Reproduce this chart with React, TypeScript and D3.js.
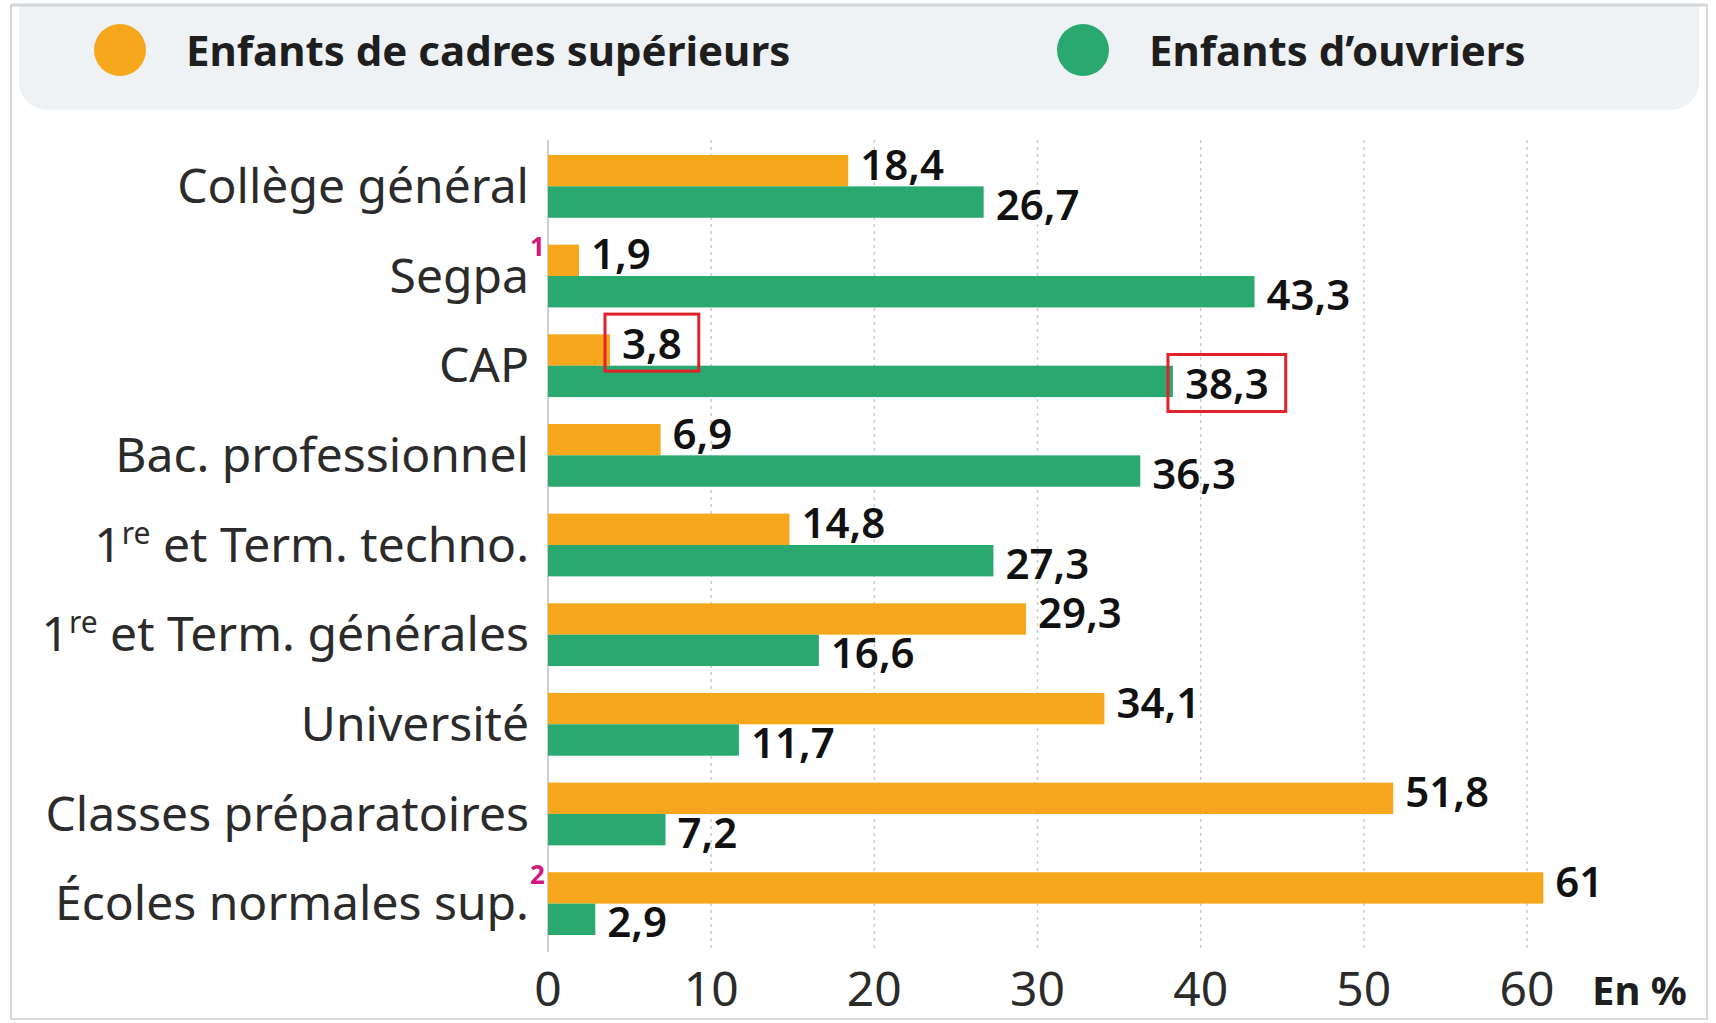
import React, { useEffect, useRef } from 'react';
import * as d3 from 'd3';

// Catégories (axe vertical), du haut vers le bas
const categories = [
  'Collège général',
  'Segpa',
  'CAP',
  'Bac. professionnel',
  '1re et Term. techno.',
  '1re et Term. générales',
  'Université',
  'Classes préparatoires',
  'Écoles normales sup.',
];
// appels de note en magenta
const footnotes = ['', '1', '', '', '', '', '', '', '2'];

// En %
const cadres = [18.4, 1.9, 3.8, 6.9, 14.8, 29.3, 34.1, 51.8, 61];
const ouvriers = [26.7, 43.3, 38.3, 36.3, 27.3, 16.6, 11.7, 7.2, 2.9];

const seriesNames = ['Enfants de cadres supérieurs', 'Enfants d’ouvriers'];
const seriesKeys = ['cadres', 'ouvriers'];
const seriesColors = ['#f6a71c', '#29a96f'];

const xTicks = [0, 10, 20, 30, 40, 50, 60];
const highlighted = ['CAP'];

const W = 1716;
const H = 1023;
const FONT = '"Noto Sans", sans-serif';
const fmt = (v: number) => String(v).replace('.', ',');

const App = () => {
  const svgRef = useRef<SVGSVGElement>(null);

  useEffect(() => {
    const svg = d3.select(svgRef.current);
    svg.selectAll('*').remove();

    const x = d3.scaleLinear().domain([0, 60]).range([548, 1527]);
    const y = d3.scaleBand<string>()
      .domain(categories)
      .range([155, 935])
      .paddingInner(0.3)
      .paddingOuter(0);
    const sub = d3.scaleBand<string>()
      .domain(seriesKeys)
      .range([0, y.bandwidth()]);

    // cadre
    svg.append('rect')
      .attr('x', 11).attr('y', 5)
      .attr('width', 1696).attr('height', 1014)
      .attr('fill', '#fff')
      .attr('stroke', '#d9d9d9')
      .attr('stroke-width', 2);

    // bandeau de légende
    svg.append('rect')
      .attr('x', 19).attr('y', 6)
      .attr('width', 1680).attr('height', 104)
      .attr('rx', 28)
      .attr('fill', '#eef2f5');
    svg.append('rect')
      .attr('x', 19).attr('y', 6)
      .attr('width', 1680).attr('height', 40)
      .attr('fill', '#eef2f5');
    svg.append('line')
      .attr('x1', 11).attr('x2', 1707)
      .attr('y1', 5).attr('y2', 5)
      .attr('stroke', '#d4d7da')
      .attr('stroke-width', 3);

    const legendX = [120, 1083];
    seriesNames.forEach((name, i) => {
      svg.append('circle')
        .attr('cx', legendX[i]).attr('cy', 50).attr('r', 26)
        .attr('fill', seriesColors[i]);
      svg.append('text')
        .attr('x', legendX[i] + 66).attr('y', 66)
        .attr('font-family', FONT)
        .attr('font-size', 42)
        .attr('font-weight', 700)
        .attr('fill', '#1e1e1e')
        .text(name);
    });

    // grille
    svg.append('g')
      .selectAll('line')
      .data(xTicks.slice(1))
      .join('line')
      .attr('x1', (d) => x(d)).attr('x2', (d) => x(d))
      .attr('y1', 140).attr('y2', 952)
      .attr('stroke', '#cbcbcb')
      .attr('stroke-width', 1.5)
      .attr('stroke-dasharray', '3,4');
    svg.append('line')
      .attr('x1', x(0)).attr('x2', x(0))
      .attr('y1', 140).attr('y2', 952)
      .attr('stroke', '#cfcfcf')
      .attr('stroke-width', 2);

    // barres
    const values = [cadres, ouvriers];
    const rows = svg.append('g')
      .selectAll('g')
      .data(categories)
      .join('g')
      .attr('transform', (d) => `translate(0,${y(d)})`);

    seriesKeys.forEach((key, s) => {
      rows.append('rect')
        .attr('x', x(0))
        .attr('y', sub(key)!)
        .attr('width', (_, i) => x(values[s][i]) - x(0))
        .attr('height', sub.bandwidth())
        .attr('fill', seriesColors[s]);
    });

    // valeurs
    seriesKeys.forEach((key, s) => {
      rows.append('text')
        .attr('class', (d) => (highlighted.includes(d) ? 'hl' : null))
        .attr('x', (_, i) => x(values[s][i]) + 12)
        .attr('y', sub(key)! + sub.bandwidth() / 2 + (s === 0 ? -6 : 3))
        .attr('dy', '0.36em')
        .attr('font-family', FONT)
        .attr('font-size', 42)
        .attr('font-weight', 600)
        .attr('fill', '#111')
        .text((_, i) => fmt(values[s][i]));
    });

    // encadrés rouges
    svg.selectAll<SVGTextElement, string>('text.hl').each(function () {
      const bb = this.getBBox();
      const g = d3.select(this.parentNode as SVGGElement);
      g.append('rect')
        .attr('x', bb.x - 17)
        .attr('y', bb.y)
        .attr('width', bb.width + 34)
        .attr('height', bb.height)
        .attr('fill', 'none')
        .attr('stroke', '#e3212b')
        .attr('stroke-width', 3);
    });

    // libellés des catégories
    const labelX = 529;
    rows.each(function (d, i) {
      const g = d3.select(this);
      const cy = y.bandwidth() / 2;
      const t = g.append('text')
        .attr('x', labelX)
        .attr('y', cy)
        .attr('dy', '0.35em')
        .attr('text-anchor', 'end')
        .attr('font-family', FONT)
        .attr('font-size', 48)
        .attr('fill', '#2b2b2b');
      if (d.startsWith('1re')) {
        t.append('tspan').text('1');
        t.append('tspan').attr('font-size', 30).attr('dy', -18).text('re');
        t.append('tspan').attr('dy', 18).text(d.slice(3));
      } else {
        t.text(d);
      }
      if (footnotes[i]) {
        g.append('text')
          .attr('x', labelX + 1)
          .attr('y', cy - 20)
          .attr('font-family', FONT)
          .attr('font-size', 26)
          .attr('font-weight', 700)
          .attr('fill', '#d4167f')
          .text(footnotes[i]);
      }
    });

    // axe des x
    svg.append('g')
      .selectAll('text')
      .data(xTicks)
      .join('text')
      .attr('x', (d) => x(d))
      .attr('y', 1006)
      .attr('text-anchor', 'middle')
      .attr('font-family', FONT)
      .attr('font-size', 48)
      .attr('fill', '#2b2b2b')
      .text((d) => d);
    svg.append('text')
      .attr('x', 1592).attr('y', 1005)
      .attr('font-family', FONT)
      .attr('font-size', 40)
      .attr('font-weight', 700)
      .attr('fill', '#1e1e1e')
      .text('En %');
  }, []);

  return (
    <div style={{ position: 'absolute', left: 0, top: 0 }}>
      <svg ref={svgRef} width={W} height={H} style={{ display: 'block', background: '#fff' }} />
    </div>
  );
};

export default App;
